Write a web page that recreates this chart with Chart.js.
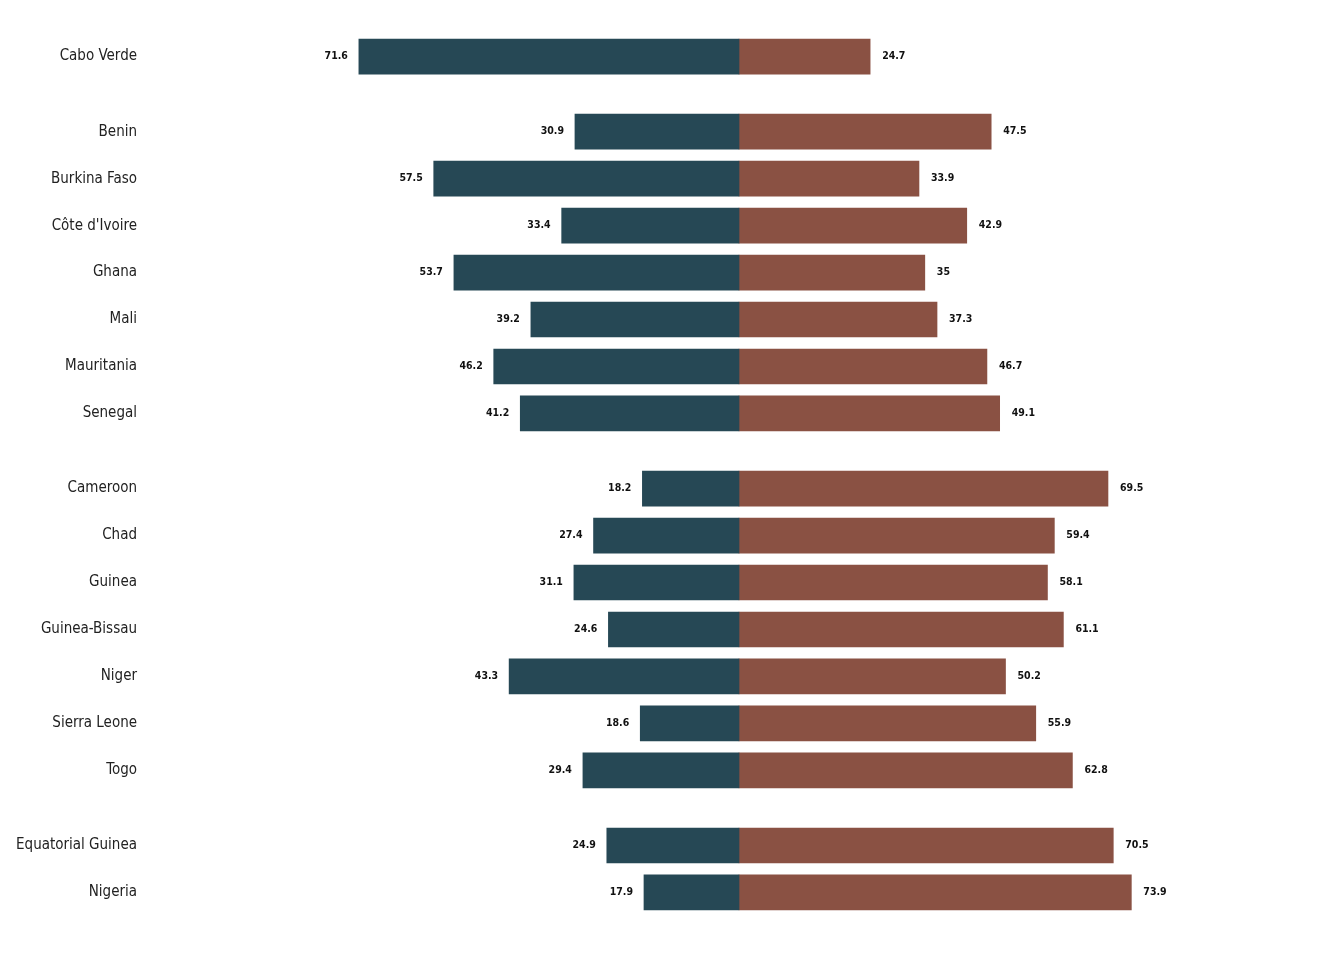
<!DOCTYPE html>
<html>
<head>
<meta charset="utf-8">
<script src="https://cdn.jsdelivr.net/npm/chart.js@4/dist/chart.umd.min.js"></script>
<style>
html,body{margin:0;padding:0;background:#fff;}
#wrap{width:1344px;height:960px;position:relative;}
</style>
</head>
<body>
<div id="wrap"><canvas id="c" width="1344" height="960"></canvas></div>
<script>
const countries = ["Cabo Verde","Benin","Burkina Faso","Côte d'Ivoire","Ghana","Mali","Mauritania","Senegal","Cameroon","Chad","Guinea","Guinea-Bissau","Niger","Sierra Leone","Togo","Equatorial Guinea","Nigeria"];
const groups = [0,1,1,1,1,1,1,1,2,2,2,2,2,2,2,3,3];
const leftValues = [71.6,30.9,57.5,33.4,53.7,39.2,46.2,41.2,18.2,27.4,31.1,24.6,43.3,18.6,29.4,24.9,17.9];
const rightValues = [24.7,47.5,33.9,42.9,35,37.3,46.7,49.1,69.5,59.4,58.1,61.1,50.2,55.9,62.8,70.5,73.9];

const GROUP_GAP = 0.6;
const pos = countries.map((c,i)=> i + groups[i]*GROUP_GAP);
const FONT = "'Liberation Sans Narrow','DejaVu Sans Condensed','Roboto',sans-serif";

const labelPlugin = {
  id:'valueLabels',
  afterDatasetsDraw(chart){
    const ctx = chart.ctx;
    ctx.save();
    ctx.font = "bold 10.5px " + FONT;
    ctx.fillStyle = "#111";
    ctx.textBaseline = "middle";
    chart.data.datasets.forEach((ds,di)=>{
      const meta = chart.getDatasetMeta(di);
      meta.data.forEach((bar,i)=>{
        const v = di===0 ? leftValues[i] : rightValues[i];
        if (di===0){ ctx.textAlign="right"; ctx.fillText(String(v), bar.x-11, bar.y); }
        else { ctx.textAlign="left"; ctx.fillText(String(v), bar.x+12, bar.y); }
      });
    });
    ctx.restore();
  }
};

new Chart(document.getElementById('c'),{
  type:'bar',
  data:{
    datasets:[
      {label:'left', data: leftValues.map((v,i)=>({x:-v,y:pos[i]})), backgroundColor:'#264855', barThickness:35, grouped:false},
      {label:'right', data: rightValues.map((v,i)=>({x:v,y:pos[i]})), backgroundColor:'#8A5143', barThickness:35, grouped:false}
    ]
  },
  options:{
    indexAxis:'y',
    responsive:false,
    animation:false,
    layout:{padding:{top:13,bottom:30,left:0,right:21}},
    plugins:{legend:{display:false},tooltip:{enabled:false}},
    scales:{
      x:{type:'linear',min:-110,max:110,display:false,grid:{display:false}},
      y:{type:'linear',reverse:true,offset:false,min:-0.8,max:pos[pos.length-1]+0.8,
        grid:{display:false},border:{display:false},
        afterBuildTicks(axis){ axis.ticks = pos.map(p=>({value:p})); },
        afterFit(axis){ axis.width = 155; },
        ticks:{autoSkip:false,padding:10,color:'#222',font:{family:FONT,size:15},
          callback(value){ const i = pos.findIndex(p=>Math.abs(p-value)<1e-6); return i>=0?countries[i]:''; }
        }
      }
    }
  },
  plugins:[labelPlugin]
});
</script>
</body>
</html>
